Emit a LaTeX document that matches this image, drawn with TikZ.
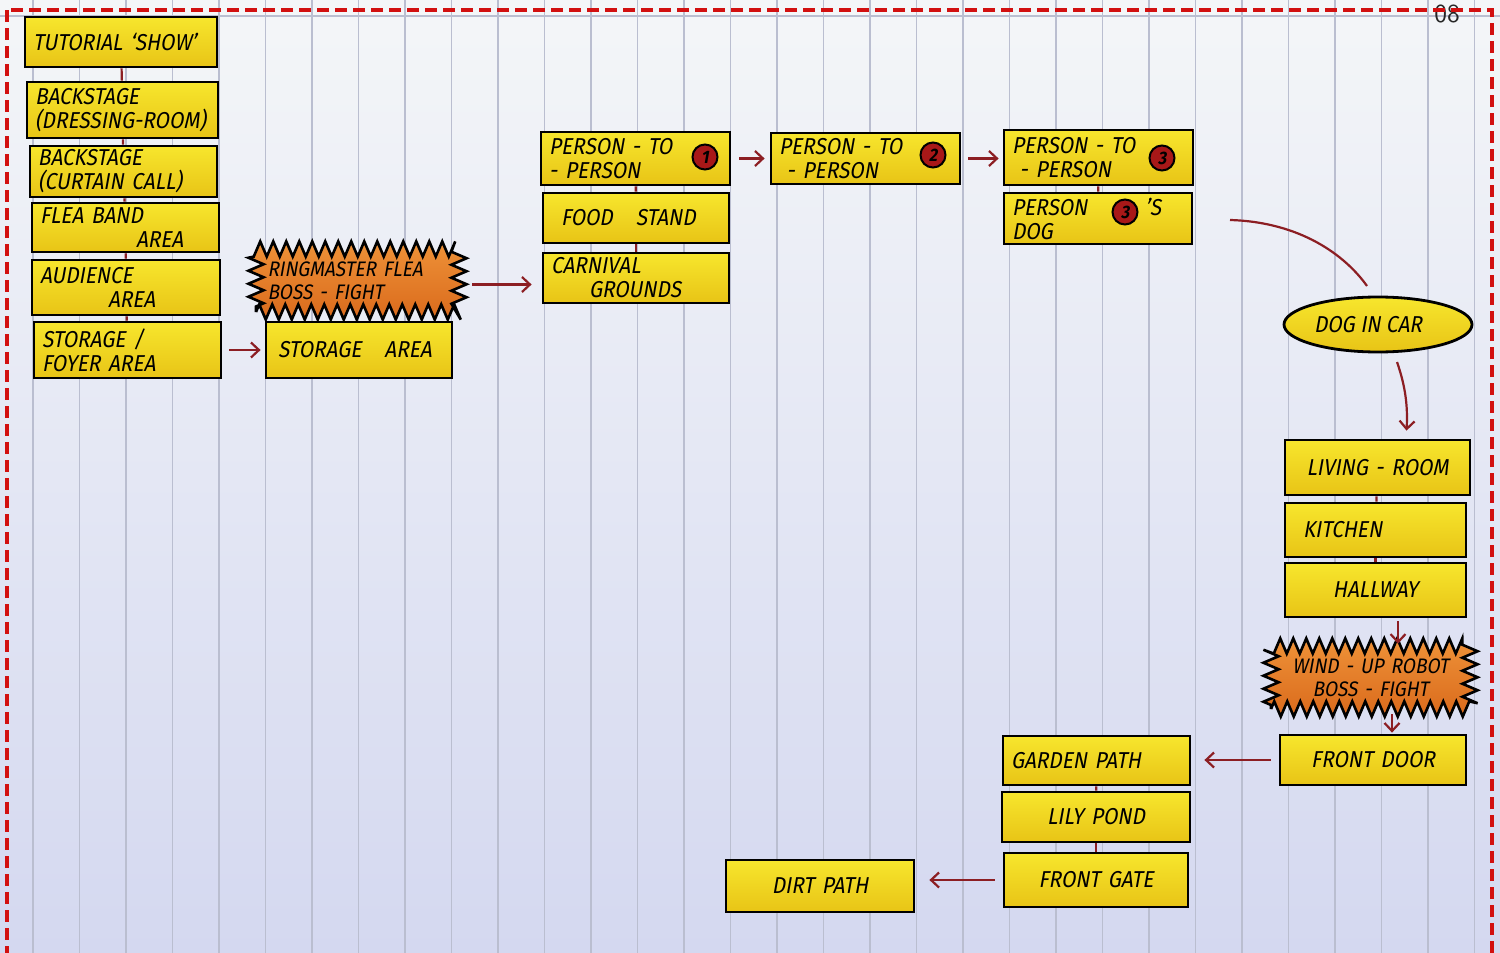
\documentclass[tikz,border=0pt]{standalone}
\usepackage{fontspec}
\newfontfamily\handfam{Fira Sans}[FakeSlant=0.18,FakeStretch=0.9]
\newcommand\handfont{\handfam\fontsize{11.5}{12}\selectfont}
\usetikzlibrary{shapes.geometric,arrows.meta,decorations.pathmorphing,calc}
\definecolor{ytop}{RGB}{247,230,45}
\definecolor{ybot}{RGB}{232,196,22}
\definecolor{otop}{RGB}{238,146,56}
\definecolor{obot}{RGB}{218,106,28}
\definecolor{lnkcol}{RGB}{140,30,35}
\definecolor{numcol}{RGB}{168,24,24}
\definecolor{papertop}{RGB}{244,246,248}
\definecolor{papermid}{RGB}{234,235,245}
\definecolor{paperbot}{RGB}{212,216,240}
\definecolor{rulecol}{RGB}{186,190,208}
\definecolor{bordcol}{RGB}{210,16,16}
\begin{document}
\begin{tikzpicture}[x=0.5pt,y=-0.5pt,
  box/.style={draw=black, line width=1.4pt, top color=ytop, bottom color=ybot,
    inner xsep=4pt, inner ysep=1pt, align=left, font=\handfont, text=black},
  wh/.style n args={3}{minimum width=#1pt, minimum height=#2pt, text width=#3pt},
  burst/.style={draw=black, line width=1.3pt, top color=otop, bottom color=obot,
    decorate, decoration={zigzag, segment length=6.5pt, amplitude=3.8pt},
    inner xsep=5pt, inner ysep=1pt, align=left,
    font=\handfam\fontsize{10.5}{11.5}\selectfont, text=black},
  ellbox/.style={ellipse, draw=black, line width=1.4pt, top color=ytop, bottom color=ybot,
    minimum width=94pt, minimum height=27.5pt, inner sep=0pt, font=\handfont},
  numc/.style={circle, draw=black, line width=1pt, fill=numcol, minimum size=12.5pt,
    inner sep=0pt, font=\handfam\bfseries\fontsize{9}{9}\selectfont, text=black},
  lnk/.style={draw=lnkcol, line width=1.1pt},
  arr/.style={lnk, -{Straight Barb[length=4pt,width=7.5pt]}}]
\useasboundingbox (0,0) rectangle (1500,953);
\clip (0,0) rectangle (1500,953);
% paper
\shade[top color=papertop, middle color=papermid, bottom color=paperbot] (0,0) rectangle (1500,953);
\foreach \x in {33,79.5,...,1490} \draw[rulecol, line width=0.8pt] (\x,0) -- (\x,953);
\draw[rulecol, line width=0.6pt] (0,16) -- (1500,16);
\node[font=\sffamily\fontsize{13}{13}\selectfont, anchor=base, text=black!85] (pg) at (1447,22) {08};

% left column
\node[box, wh={96}{25}{88}] (tut) at (121,42) {TUTORIAL ‘SHOW’};
\node[box, wh={95.5}{28}{87.5}] (bk1) at (122.5,110) {BACKSTAGE\\(DRESSING-ROOM)};
\node[box, wh={93.5}{25.5}{85.5}] (bk2) at (123.5,171.5) {BACKSTAGE\\(CURTAIN CALL)};
\node[box, wh={93.5}{24.5}{85.5}] (flea) at (125.5,227.5) {FLEA BAND\\\hspace*{48pt}AREA};
\node[box, wh={94}{27.5}{86}] (aud) at (126,287.5) {AUDIENCE\\\hspace*{34pt}AREA};
\node[box, wh={93.5}{28}{85.5}] (stf) at (127.5,350) {STORAGE /\\FOYER AREA};

% second column
\node[burst, wh={101.5}{31.5}{90}] (ring) at (357.5,280.5) {RINGMASTER FLEA\\BOSS - FIGHT};
\node[box, wh={93}{28}{85}] (sto) at (359,350) {\hspace*{2pt}STORAGE\quad AREA};

% carnival column
\node[box, wh={94.5}{26.5}{86.5}] (p1) at (635.5,158.5) {PERSON - TO\\- PERSON};
\node[box, wh={93}{25}{85}] (food) at (636,218) {\hspace*{5pt}FOOD\quad STAND};
\node[box, wh={93}{25}{85}] (carn) at (636,278) {CARNIVAL\\\hspace*{19pt}GROUNDS};
\node[box, wh={94.5}{25.5}{86.5}] (p2) at (865.5,158.5) {PERSON - TO\\\ - PERSON};
\node[box, wh={94.5}{27.5}{86.5}] (p3) at (1098.5,157.5) {PERSON - TO\\\ - PERSON};
\node[box, wh={94}{25.5}{86}] (dog) at (1098,218.5) {PERSON\hspace{29pt}’S\\DOG};
\node[numc] (n1) at (705,157) {1};
\node[numc] (n2) at (933,155) {2};
\node[numc] (n3) at (1162,158) {3};
\node[numc] (n4) at (1125,212) {3};

% house column
\node[ellbox] (car) at (1378,324.5) {DOG IN CAR\hspace*{10pt}};
\node[box, wh={92.5}{27.5}{84.5}, align=center] (liv) at (1377.5,467.5) {LIVING - ROOM};
\node[box, wh={90.5}{27}{82.5}] (kit) at (1375.5,530) {\hspace*{5pt}KITCHEN};
\node[box, wh={90.5}{27}{82.5}, align=center] (hall) at (1375.5,590) {HALLWAY};
\node[burst, wh={99.5}{31.5}{88}, align=center] (robot) at (1370.5,677.5) {WIND - UP ROBOT\\BOSS - FIGHT};
\node[box, wh={93}{25}{85}, align=center] (fdoor) at (1373,760) {FRONT DOOR};

% garden
\node[box, wh={93.5}{24.5}{85.5}] (gard) at (1096.5,760.5) {GARDEN PATH};
\node[box, wh={94}{25}{86}, align=center] (lily) at (1096,817) {LILY POND};
\node[box, wh={92}{27}{84}, align=center] (fgate) at (1096,880) {FRONT GATE};
\node[box, wh={94}{26}{86}, align=center] (dirt) at (820,886) {DIRT PATH};

% connectors
\draw[lnk] (tut) -- (bk1);
\draw[lnk] (bk1) -- (bk2);
\draw[lnk] (bk2) -- (flea);
\draw[lnk] (flea) -- (aud);
\draw[lnk] (aud) -- (stf);
\draw[arr, shorten <=3.5pt, shorten >=2pt] (stf.east) -- (stf.east -| sto.west);
\draw[arr, shorten <=6pt, shorten >=5pt] ([yshift=-2pt]ring.east) -- ([yshift=-2pt]ring.east -| carn.west);
\draw[lnk] (p1) -- (food);
\draw[lnk] (food) -- (carn);
\draw[arr, shorten <=4pt, shorten >=2.5pt] (p1.east) -- (p1.east -| p2.west);
\draw[arr, shorten <=3.5pt, shorten >=2pt] (p2.east) -- (p2.east -| p3.west);
\draw[lnk] (p3) -- (dog);
\coordinate (c1) at (1230,220);
\coordinate (c2) at (1367,286);
\draw[lnk] (c1) .. controls (1300,222) and (1345,255) .. (c2);
\coordinate (c3) at (1397,362);
\draw[arr] (c3) .. controls (1405,385) and (1408,405) .. ($(liv.north)+(29,-8)$);
\draw[lnk] (liv) -- (kit);
\draw[lnk] (kit) -- (hall);
\coordinate (c4) at (1398,0);
\draw[arr, shorten <=1.5pt, shorten >=0.5pt] (hall.south -| c4) -- (robot.north -| c4);
\coordinate (c5) at (1392,0);
\draw[arr, shorten <=2pt, shorten >=0.5pt] (robot.south -| c5) -- (fdoor.north -| c5);
\draw[arr, shorten <=4pt, shorten >=6.5pt] (fdoor.west) -- (fdoor.west -| gard.east);
\draw[lnk] (gard) -- (lily);
\draw[lnk] (lily) -- (fgate);
\draw[arr, shorten <=4pt, shorten >=7pt] (fgate.west) -- (fgate.west -| dirt.east);

% border
\draw[bordcol, line width=1.6pt, dash pattern=on 6pt off 3pt] (7,10) rectangle (1492,990);
\end{tikzpicture}
\end{document}
